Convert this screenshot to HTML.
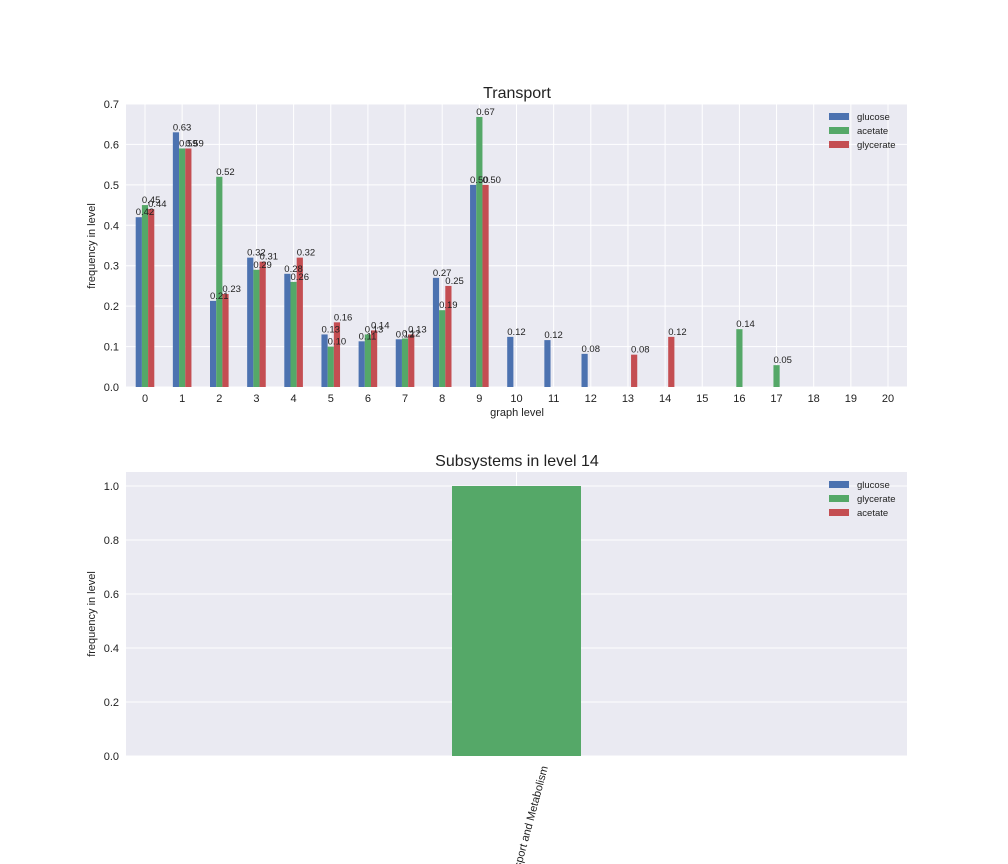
<!DOCTYPE html>
<html><head><meta charset="utf-8"><style>
body{margin:0;background:#fff;}
svg{display:block;font-family:"Liberation Sans","DejaVu Sans",sans-serif;}
</style></head><body>
<svg id="s" width="1008" height="864" xmlns="http://www.w3.org/2000/svg"></svg>
<script>
const s=document.getElementById('s');let h='';
const C=['#4c72b0','#55a868','#c44e52'];
// top axes
const L=126,R=907,T=104,B=387,sc=(B-T)/0.7;
h+=`<rect x="${L}" y="${T}" width="${R-L}" height="${B-T}" fill="#eaeaf2"/>`;
const cx=i=>145+i*37.15;
for(let v=0;v<=7;v++){const y=B-v*0.1*sc;h+=`<line x1="${L}" x2="${R}" y1="${y}" y2="${y}" stroke="#fff" stroke-width="1"/><text x="${L-7}" y="${y+4}" font-size="11" text-anchor="end" fill="#222">${(v/10).toFixed(1)}</text>`;}
for(let i=0;i<=20;i++){h+=`<line x1="${cx(i)}" x2="${cx(i)}" y1="${T}" y2="${B}" stroke="#fff"/><text x="${cx(i)}" y="${B+15}" font-size="11" text-anchor="middle" fill="#222">${i}</text>`;}
const g=[.42,.63,.213,.32,.28,.13,.113,.118,.27,.50,.124,.116,.082,0,0,0,0,0,0,0,0];
const a=[.45,.59,.52,.29,.26,.10,.13,.12,.19,.668,0,0,0,0,0,0,.143,.054,0,0,0];
const r=[.44,.59,.23,.31,.32,.16,.14,.13,.25,.50,0,0,0,.08,.124,0,0,0,0,0,0];
const sets=[g,a,r];
for(let k=0;k<3;k++)for(let i=0;i<=20;i++){const v=sets[k][i];if(!v)continue;const x=cx(i)-9.3+k*6.2,y=B-v*sc;
h+=`<rect x="${x}" y="${y}" width="6.2" height="${B-y}" fill="${C[k]}"/>`;}
for(let k=0;k<3;k++)for(let i=0;i<=20;i++){const v=sets[k][i];if(!v)continue;const x=cx(i)-9.3+k*6.2,y=B-v*sc;
h+=`<text x="${x}" y="${y-2}" font-size="9.5" fill="#222">${v.toFixed(2)}</text>`;}
h+=`<text x="517" y="98" font-size="16" text-anchor="middle" fill="#222">Transport</text>`;
h+=`<text x="517" y="416" font-size="11" text-anchor="middle" fill="#222">graph level</text>`;
h+=`<text transform="translate(95,246) rotate(-90)" font-size="11" text-anchor="middle" fill="#222">frequency in level</text>`;
const leg=(y0,names)=>{names.forEach((n,k)=>{const y=y0+k*14;h+=`<rect x="829" y="${y-4}" width="20" height="7" fill="${C[k]}"/><text x="857" y="${y+3}" font-size="9.5" fill="#222">${n}</text>`;});};
leg(117,['glucose','acetate','glycerate']);
// bottom axes
const T2=472,B2=756,sc2=270;
h+=`<rect x="${L}" y="${T2}" width="${R-L}" height="${B2-T2}" fill="#eaeaf2"/>`;
for(let v=0;v<=5;v++){const y=B2-v*0.2*sc2;h+=`<line x1="${L}" x2="${R}" y1="${y}" y2="${y}" stroke="#fff"/><text x="${L-7}" y="${y+4}" font-size="11" text-anchor="end" fill="#222">${(v*0.2).toFixed(1)}</text>`;}
h+=`<line x1="516.5" x2="516.5" y1="${T2}" y2="${B2}" stroke="#fff"/>`;
h+=`<rect x="452" y="${B2-sc2}" width="129" height="${sc2}" fill="${C[1]}"/>`;
h+=`<text x="517" y="466" font-size="16" text-anchor="middle" fill="#222">Subsystems in level 14</text>`;
h+=`<text transform="translate(95,614) rotate(-90)" font-size="11" text-anchor="middle" fill="#222">frequency in level</text>`;
h+=`<text transform="translate(548,767) rotate(-75)" font-size="11" text-anchor="end" fill="#222">Transport and Metabolism</text>`;
leg(485,['glucose','glycerate','acetate']);
s.innerHTML=h;
</script>
</body></html>
